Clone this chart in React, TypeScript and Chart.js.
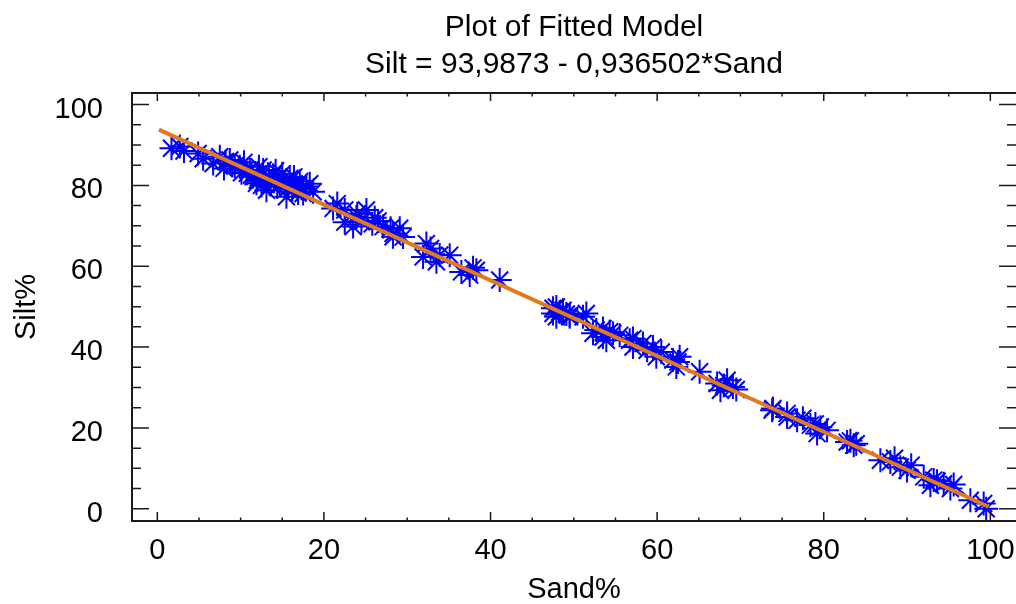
import { useEffect, useRef } from "react";
import { Chart, registerables } from "chart.js";

Chart.register(...registerables);

// Observed data (Sand% vs Silt%)
const sandPct = [
  1.7, 2.7, 3.2, 4.9, 5.5, 6.7, 7.5, 8.2, 8.7, 9.3, 9.9, 10.4, 10.8, 11.1, 11.5, 11.9,
  12.2, 12.7, 13.1, 13.4, 13.9, 14.2, 14.7, 15.0, 15.5, 15.9, 16.2, 16.7, 17.1, 17.5,
  17.9, 18.3, 18.7, 12.0, 13.0, 14.4, 15.3, 16.4, 11.3, 10.1, 12.5, 9.0, 8.0, 14.0,
  15.7, 17.3, 13.6, 16.9,
  21.1, 21.6, 22.5, 22.5, 23.5, 23.9, 24.5, 25.1, 25.8, 26.1, 27.1, 28.0, 28.3, 28.3,
  29.1, 29.5, 24.0, 26.5,
  32.3, 31.9, 32.8, 33.5, 33.9, 35.1, 36.5, 37.5, 38.3, 37.9, 41.1,
  47.5, 47.5, 47.9, 47.9, 48.3, 48.7, 49.1, 49.5, 49.5, 51.1, 51.5,
  52.3, 52.7, 53.5, 53.5, 53.9, 54.3, 54.7, 55.5, 56.7, 57.1, 57.1, 58.3, 58.8, 59.5,
  59.9, 61.9, 62.3, 62.7, 62.5, 60.5,
  65.1, 67.2, 67.6, 68.4, 69.1, 68.0, 69.5,
  73.8, 73.9, 75.6, 75.6, 76.8, 77.5, 78.4, 79.2, 79.6, 80.4, 79.0,
  82.8, 83.6, 83.2, 83.9,
  86.8, 88.0, 88.5, 89.2, 90.0, 90.5, 92.0, 92.8, 93.2, 93.6, 94.4, 95.2, 95.6,
  97.6, 99.2, 99.5,
];
const siltPct = [
  89.2, 89.6, 88.5, 87.9, 86.6, 85.4, 87.1, 85.9, 86.3, 84.8, 84.6, 85.7, 83.0, 83.8, 82.2, 80.5,
  84.6, 83.8, 78.8, 81.5, 82.5, 83.6, 80.5, 82.9, 77.2, 81.7, 79.0, 79.7, 81.0, 78.0,
  79.7, 80.4, 78.4, 81.3, 82.0, 79.6, 80.8, 82.1, 82.6, 83.1, 80.0, 85.0, 84.2, 81.0,
  79.4, 79.3, 80.2, 78.1,
  74.3, 75.5, 73.9, 70.9, 69.8, 72.2, 71.0, 73.9, 70.5, 72.0, 69.8, 69.4, 67.3, 68.1,
  69.4, 67.2, 73.0, 71.2,
  65.6, 62.3, 64.4, 61.1, 62.8, 62.7, 58.6, 57.8, 59.0, 59.6, 56.6,
  49.6, 48.3, 49.9, 47.5, 48.7, 49.1, 48.2, 47.9, 47.5, 47.5, 48.3,
  43.4, 44.2, 44.6, 42.5, 41.7, 43.8, 43.4, 42.9, 41.7, 42.1, 40.0, 40.9, 39.2, 40.0,
  37.6, 36.8, 35.1, 37.6, 36.3, 38.8,
  33.9, 31.0, 29.3, 31.8, 30.1, 30.5, 29.5,
  24.4, 24.8, 22.7, 23.6, 21.9, 22.4, 20.7, 18.6, 20.2, 19.4, 21.0,
  16.5, 15.7, 16.8, 16.1,
  12.0, 11.6, 12.5, 10.3, 9.5, 10.8, 7.9, 5.8, 7.1, 6.8, 6.2, 5.0, 6.0,
  2.1, 1.3, 0.0,
];

// Fitted line end points (Silt = 93,9873 - 0,936502*Sand)
const fitSand = [0.2, 99.8];
const fitSilt = [93.8, 0.5];

const titleText = "Plot of Fitted Model";
const subtitleText = "Silt = 93,9873 - 0,936502*Sand";
const xTitle = "Sand%";
const yTitle = "Silt%";

const FONT = "'Liberation Sans', Arial, Helvetica, sans-serif";

const framePlugin = {
  id: "frame",
  afterDatasetsDraw(chart: any) {
    const { ctx, chartArea: a, scales } = chart;
    const xs = scales.x;
    const ys = scales.y;
    ctx.save();
    ctx.strokeStyle = "#1a1a1a";
    ctx.lineWidth = 2;
    ctx.beginPath();
    ctx.moveTo(a.right + 2, a.top);
    ctx.lineTo(a.left, a.top);
    ctx.lineTo(a.left, a.bottom);
    ctx.lineTo(a.right + 2, a.bottom);
    ctx.stroke();
    ctx.lineWidth = 1.5;
    ctx.beginPath();
    for (let v = 0; v <= 100; v += 5) {
      const major = v % 20 === 0;
      const px = xs.getPixelForValue(v);
      ctx.moveTo(px, a.bottom);
      ctx.lineTo(px, a.bottom - (major ? 9 : 3.5));
      ctx.moveTo(px, a.top);
      ctx.lineTo(px, a.top + (major ? 8 : 3.5));
      const py = ys.getPixelForValue(v);
      const len = major ? 17 : 9;
      ctx.moveTo(a.left, py);
      ctx.lineTo(a.left + len, py);
      ctx.moveTo(a.right, py);
      ctx.lineTo(a.right - len, py);
    }
    ctx.stroke();
    ctx.restore();
  },
};

export default function App() {
  const ref = useRef<HTMLCanvasElement | null>(null);

  useEffect(() => {
    document.body.style.margin = "0";
    const canvas = ref.current;
    if (!canvas) return;
    const points = sandPct.map((s, i) => ({ x: s, y: siltPct[i] }));
    const fit = fitSand.map((s, i) => ({ x: s, y: fitSilt[i] }));

    const chart = new Chart(canvas, {
      type: "scatter",
      data: {
        datasets: [
          {
            type: "line",
            label: "fit",
            data: fit,
            borderColor: "#e07a1c",
            borderWidth: 4,
            pointRadius: 0,
            fill: false,
          } as any,
          {
            type: "line",
            label: "limits",
            data: fit,
            borderColor: "rgba(150,80,20,0.6)",
            borderWidth: 1,
            pointRadius: 0,
            fill: false,
          } as any,
          {
            label: "Silt%",
            data: points,
            pointStyle: "star",
            pointRadius: 12,
            pointBorderWidth: 2,
            borderColor: "#0000ff",
            backgroundColor: "#0000ff",
            showLine: false,
          } as any,
        ],
      },
      options: {
        responsive: false,
        animation: false,
        devicePixelRatio: 1,
        layout: { padding: 0, autoPadding: false },
        plugins: {
          legend: { display: false },
          tooltip: { enabled: false },
          title: {
            display: true,
            fullSize: false,
            text: titleText,
            color: "#000",
            font: { family: FONT, size: 30, weight: "normal", lineHeight: 1.2 },
            padding: { top: 10, bottom: 1 },
          },
          subtitle: {
            display: true,
            fullSize: false,
            text: subtitleText,
            color: "#000",
            font: { family: FONT, size: 30, weight: "normal", lineHeight: 1.2 },
            padding: { top: 0, bottom: 10 },
          },
        },
        scales: {
          x: {
            type: "linear",
            min: -3.04,
            max: 103.08,
            grid: { display: false, drawTicks: false },
            border: { display: false },
            ticks: {
              stepSize: 20,
              includeBounds: false,
              padding: 13,
              color: "#000",
              maxRotation: 0,
              font: { family: FONT, size: 29, lineHeight: 1.2 },
            },
            title: {
              display: true,
              text: xTitle,
              color: "#000",
              font: { family: FONT, size: 29, lineHeight: 1 },
              padding: 0,
            },
            afterFit(scale: any) {
              scale.height = 83;
              scale.paddingLeft = 0;
              scale.paddingRight = 0;
            },
          },
          y: {
            type: "linear",
            min: -3.02,
            max: 102.85,
            grid: { display: false, drawTicks: false },
            border: { display: false },
            ticks: {
              stepSize: 20,
              includeBounds: false,
              padding: 29,
              labelOffset: 5,
              color: "#000",
              font: { family: FONT, size: 29, lineHeight: 1.2 },
            },
            title: {
              display: true,
              text: yTitle,
              color: "#000",
              font: { family: FONT, size: 29, lineHeight: 1 },
              padding: 12,
            },
            afterFit(scale: any) {
              scale.width = 132;
              scale.paddingTop = 0;
              scale.paddingBottom = 0;
            },
          },
        },
      },
      plugins: [framePlugin],
    });
    return () => chart.destroy();
  }, []);

  return (
    <div style={{ width: 1016, height: 604 }}>
      <canvas ref={ref} width={1016} height={604} style={{ display: "block" }} />
    </div>
  );
}
